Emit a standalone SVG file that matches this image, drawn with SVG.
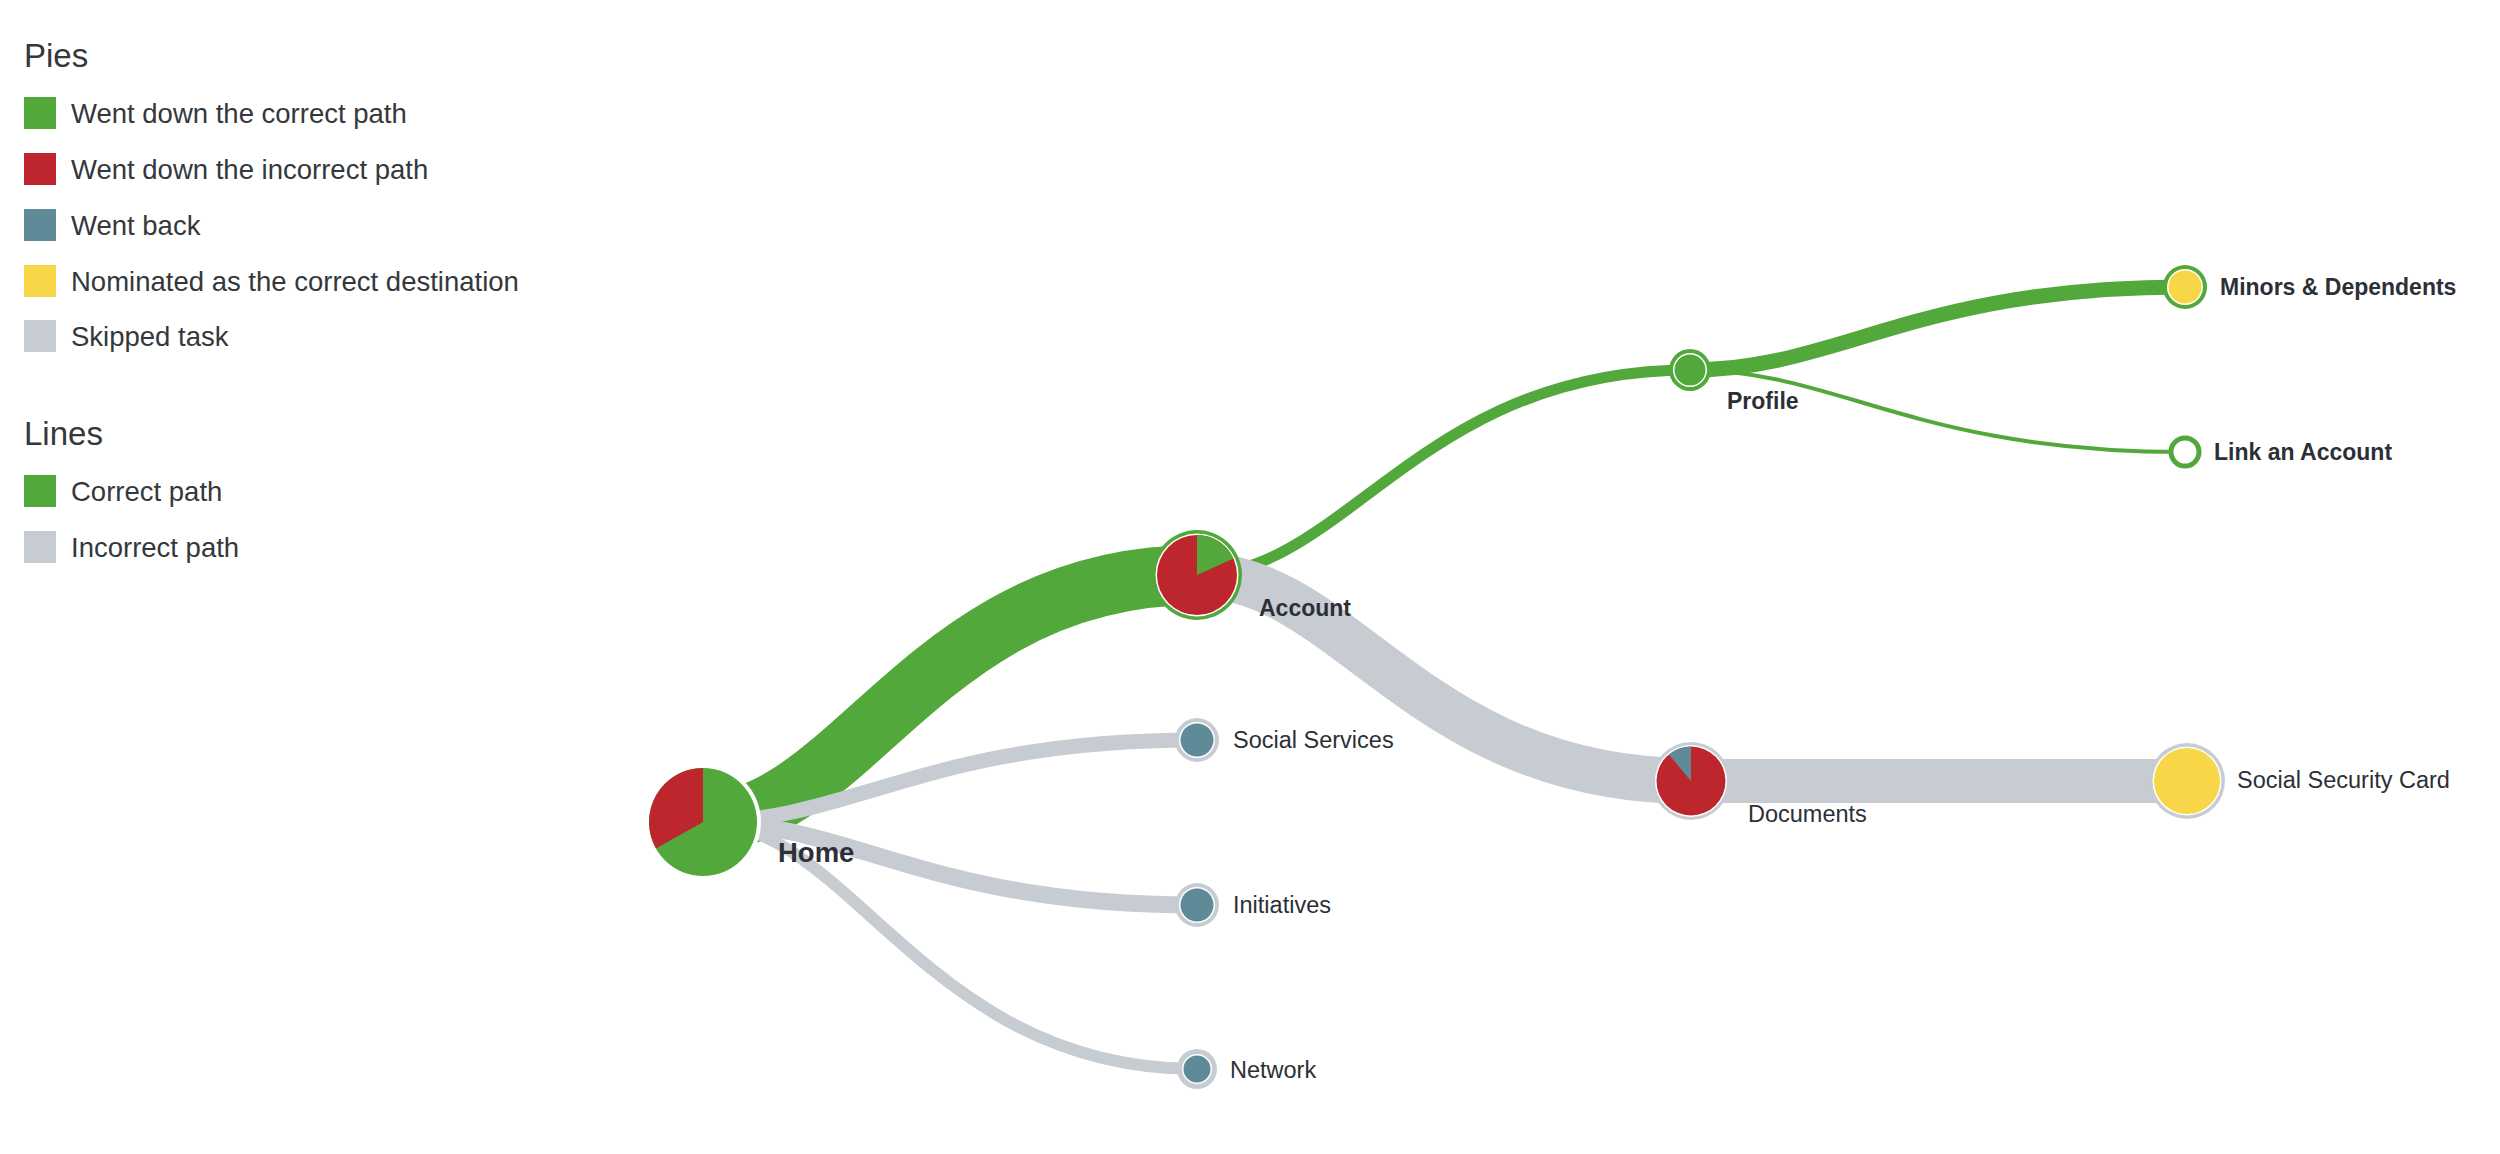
<svg xmlns="http://www.w3.org/2000/svg" width="2500" height="1154" viewBox="0 0 2500 1154">
<style>
text{font-family:"Liberation Sans",Arial,sans-serif;fill:#2c3036}
.lh{font-size:33px;fill:#33383d}
.li{font-size:27.5px;fill:#33383d}
.lbl{font-size:23.5px}
.b{font-weight:bold;font-size:23px}
.g{fill:#53a83c}.r{fill:#bd262d}.s{fill:#5f8a98}.y{fill:#f7d748}.k{fill:#c7ccd3}.w{fill:#fff}
.lg{fill:none;stroke:#53a83c}
.lk{fill:none;stroke:#c7ccd3}
</style>
<rect width="2500" height="1154" fill="#fff"/>
<g id="legend">
<text class="lh" x="24" y="67">Pies</text>
<rect class="g" x="24" y="97" width="32" height="32"/><text class="li" x="71" y="123">Went down the correct path</text>
<rect class="r" x="24" y="153" width="32" height="32"/><text class="li" x="71" y="179">Went down the incorrect path</text>
<rect class="s" x="24" y="209" width="32" height="32"/><text class="li" x="71" y="235">Went back</text>
<rect class="y" x="24" y="265" width="32" height="32"/><text class="li" x="71" y="291">Nominated as the correct destination</text>
<rect class="k" x="24" y="320" width="32" height="32"/><text class="li" x="71" y="346">Skipped task</text>
<text class="lh" x="24" y="445">Lines</text>
<rect class="g" x="24" y="475" width="32" height="32"/><text class="li" x="71" y="501">Correct path</text>
<rect class="k" x="24" y="531" width="32" height="32"/><text class="li" x="71" y="557">Incorrect path</text>
</g>
<g id="connectors">
<path class="lg" stroke-width="60" d="M703,822 C851,822 925,575 1197,575"/>
<path class="lg" stroke-width="11" d="M1197,575 C1345,575 1419,370 1690,370"/>
<path class="lg" stroke-width="15" d="M1690,370 C1838,370 1913,287 2185,287"/>
<path class="lg" stroke-width="4" d="M1690,370 C1838,370 1913,452 2185,452"/>
<path class="lk" stroke-width="15" d="M703,822 C851,822 925,740 1197,740"/>
<path class="lk" stroke-width="17" d="M703,822 C851,822 925,905 1197,905"/>
<path class="lk" stroke-width="12" d="M703,822 C851,822 925,1069 1197,1069"/>
<path class="lk" stroke-width="46" d="M1197,575 C1345,575 1419,781 1691,781"/>
<path class="lk" stroke-width="44" d="M1691,781 L2187,781"/>
</g>
<g id="node-home">
<circle class="w" cx="703" cy="822" r="58"/>
<circle class="g" cx="703" cy="822" r="54"/>
<path class="r" d="M703,822 L656,848.5 A54,54 0 0,1 703,768 Z"/>
<text class="b" style="font-size:27.5px" x="778" y="862">Home</text>
</g>
<g id="node-account">
<circle class="g" cx="1197" cy="575" r="45"/>
<circle class="w" cx="1197" cy="575" r="41.5"/>
<circle class="r" cx="1197" cy="575" r="40"/>
<path class="g" d="M1197,575 L1197,535 A40,40 0 0,1 1233.5,558.5 Z"/>
<text class="b" x="1259" y="616">Account</text>
</g>
<g id="node-profile">
<circle class="g" cx="1690" cy="370" r="21"/>
<circle class="w" cx="1690" cy="370" r="17"/>
<circle class="g" cx="1690" cy="370" r="15.5"/>
<text class="b" x="1727" y="409">Profile</text>
</g>
<g id="node-minors">
<circle class="g" cx="2185" cy="287" r="22"/>
<circle class="w" cx="2185" cy="287" r="18"/>
<circle class="y" cx="2185" cy="287" r="16.5"/>
<text class="b" x="2220" y="295">Minors &amp; Dependents</text>
</g>
<g id="node-link">
<circle cx="2185" cy="452" r="14" fill="#fff" stroke="#53a83c" stroke-width="5"/>
<text class="b" x="2214" y="460">Link an Account</text>
</g>
<g id="node-documents">
<circle class="k" cx="1691" cy="781" r="39"/>
<circle class="w" cx="1691" cy="781" r="36"/>
<circle class="r" cx="1691" cy="781" r="34.5"/>
<path class="s" d="M1691,781 L1668.8,754.6 A34.5,34.5 0 0,1 1691,746.5 Z"/>
<text class="lbl" x="1748" y="822">Documents</text>
</g>
<g id="node-ssc">
<circle class="k" cx="2187" cy="781" r="38"/>
<circle class="w" cx="2187" cy="781" r="34.5"/>
<circle class="y" cx="2187" cy="781" r="33"/>
<text class="lbl" x="2237" y="788">Social Security Card</text>
</g>
<g id="node-social-services">
<circle class="k" cx="1197" cy="740" r="22"/>
<circle class="w" cx="1197" cy="740" r="18"/>
<circle class="s" cx="1197" cy="740" r="16.5"/>
<text class="lbl" x="1233" y="748">Social Services</text>
</g>
<g id="node-initiatives">
<circle class="k" cx="1197" cy="905" r="22"/>
<circle class="w" cx="1197" cy="905" r="18"/>
<circle class="s" cx="1197" cy="905" r="16.5"/>
<text class="lbl" x="1233" y="913">Initiatives</text>
</g>
<g id="node-network">
<circle class="k" cx="1197" cy="1069" r="20"/>
<circle class="w" cx="1197" cy="1069" r="15"/>
<circle class="s" cx="1197" cy="1069" r="13.5"/>
<text class="lbl" x="1230" y="1078">Network</text>
</g>
</svg>
